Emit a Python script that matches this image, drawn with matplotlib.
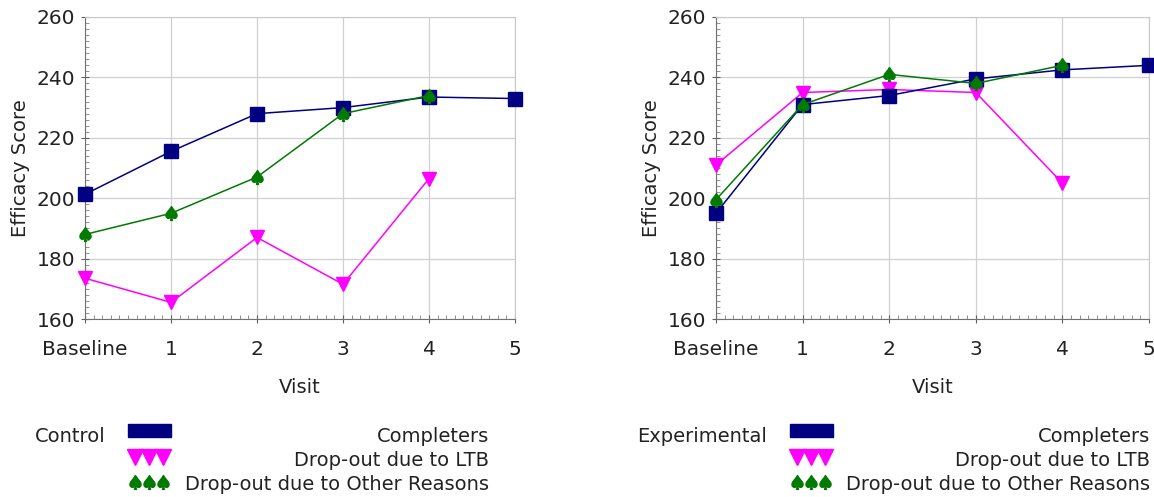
import matplotlib
matplotlib.use("AGG")
import matplotlib.pyplot as plt
from matplotlib.patches import Rectangle
from matplotlib.ticker import MultipleLocator, AutoMinorLocator

plt.rcParams['font.family'] = ['DejaVu Sans']

# data
visits = ["Baseline", "1", "2", "3", "4", "5"]
series_names = ["Completers", "Drop-out due to LTB", "Drop-out due to Other Reasons"]

control_completers = [201.3, 215.5, 228.0, 230.0, 233.5, 233.0]
control_ltb = [173.5, 165.5, 187.0, 171.5, 206.5]
control_other = [188.0, 195.0, 207.0, 228.0, 234.0]

exp_completers = [195.0, 231.0, 234.0, 239.5, 242.5, 244.0]
exp_ltb = [211.0, 235.0, 236.0, 235.0, 205.0]
exp_other = [199.5, 231.0, 241.0, 238.0, 244.0]

NAVY = "#000080"
MAGENTA = "#FF00FF"
GREEN = "#007A00"
TXT = "#222222"
W, H = 1154, 497

fig = plt.figure(figsize=(W / 100, H / 100), dpi=100)


def draw_panel(rect, completers, ltb, other):
    ax = fig.add_axes(rect)
    x = list(range(len(visits)))
    ax.plot(x[:len(completers)], completers, color=NAVY, lw=1.1, marker="s",
            ms=9.5, zorder=5, clip_on=False)
    ax.plot(x[:len(ltb)], ltb, color=MAGENTA, lw=1.1, marker="v",
            ms=10, zorder=4, clip_on=False)
    ax.plot(x[:len(other)], other, color=GREEN, lw=1.1, marker="$♠$",
            ms=10, zorder=6, clip_on=False)
    ax.set_xlim(0, 5)
    ax.set_ylim(160, 260)
    ax.set_xticks(x)
    ax.set_xticklabels(visits)
    ax.yaxis.set_major_locator(MultipleLocator(20))
    ax.xaxis.set_minor_locator(AutoMinorLocator(10))
    ax.yaxis.set_minor_locator(AutoMinorLocator(10))
    ax.grid(True, which="major", color="#D0D0D0", lw=0.9)
    ax.set_axisbelow(True)
    ax.tick_params(which="major", direction="inout", length=6, width=0.8,
                   color="#606060", labelsize=14.5, colors=TXT)
    ax.tick_params(axis="x", which="major", pad=12)
    ax.tick_params(axis="y", which="major", pad=4)
    ax.tick_params(which="minor", direction="in", length=3, width=0.6,
                   color="#808080")
    for s in ["left", "bottom"]:
        ax.spines[s].set_color("#707070")
    for s in ["top", "right"]:
        ax.spines[s].set_color("#C8C8C8")
    ax.set_xlabel("Visit", fontsize=14, color=TXT, labelpad=14)
    ax.set_ylabel("Efficacy Score", fontsize=14, color=TXT, labelpad=5)
    return ax


draw_panel([85 / W, 1 - 319 / H, 430 / W, 302 / H],
           control_completers, control_ltb, control_other)
draw_panel([716 / W, 1 - 319 / H, 433 / W, 302 / H],
           exp_completers, exp_ltb, exp_other)

# legend blocks drawn in pixel coordinates
lg = fig.add_axes([0, 0, 1, 1], zorder=-1)
lg.set_xlim(0, W)
lg.set_ylim(H, 0)
lg.axis("off")


def draw_legend(group, group_x, sw_x, text_right):
    lg.text(group_x, 436, group, fontsize=14, color=TXT, va="center")
    lg.add_patch(Rectangle((sw_x, 424), 43, 13, color=NAVY))
    for dx in (7, 21, 35):
        lg.plot(sw_x + dx, 457, marker="v", color=MAGENTA, ms=11)
        lg.plot(sw_x + dx, 482, marker="$♠$", color=GREEN, ms=10)
    for name, yy in zip(series_names, (436, 461, 485)):
        lg.text(text_right, yy, name, fontsize=14, color=TXT,
                va="center", ha="right")


draw_legend("Control", 35, 128, 489)
draw_legend("Experimental", 637, 790, 1150)

fig.savefig("out.png", dpi=100)
